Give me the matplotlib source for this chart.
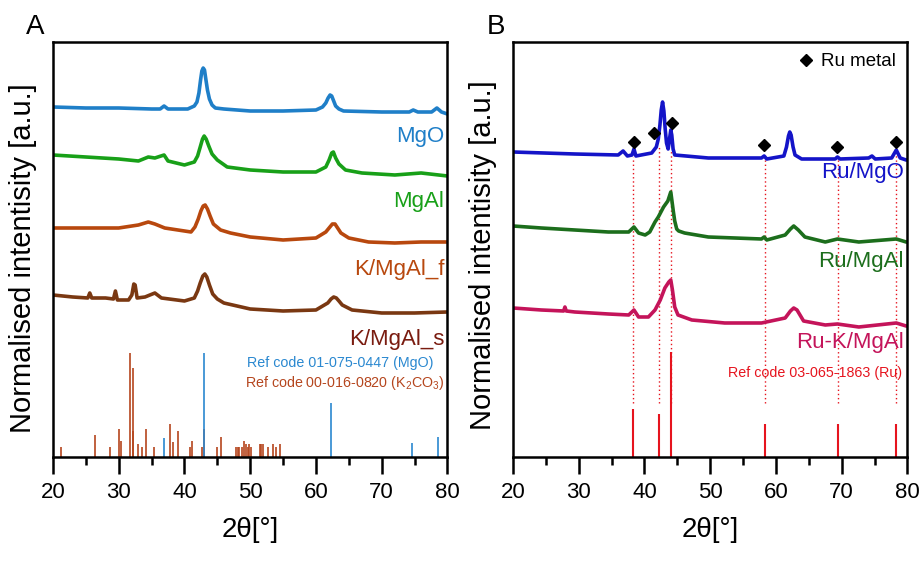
import matplotlib
matplotlib.use('Agg')
import matplotlib.pyplot as plt
from matplotlib.lines import Line2D
from matplotlib.ticker import MultipleLocator

plt.rcParams['font.family'] = ['Liberation Sans', 'DejaVu Sans']
plt.rcParams['mathtext.fontset'] = 'custom'
plt.rcParams['mathtext.rm'] = 'Liberation Sans'
plt.rcParams['mathtext.it'] = 'Liberation Sans:italic'

# ---------------- Panel A data ----------------
mgo_x = [20, 25, 30, 35, 36.3, 36.9, 37.5, 40.5, 41.5, 41.9, 42.2, 42.45, 42.65, 42.85, 43.05, 43.25, 43.5, 43.8,
         44.2, 44.7, 46, 50, 55, 60, 61.0, 61.5, 61.85, 62.15, 62.4, 62.7, 63.0, 63.5, 64.2, 70, 74.2, 74.8, 75.5,
         77.6, 78.4, 79.1, 80]
mgo_y = [350, 349, 349, 348, 348, 351, 348, 348, 351, 355, 364, 377, 386, 389, 387, 378, 367, 358,
         352, 349, 348, 346, 346, 347, 350, 354, 359, 362, 361, 356, 351, 348, 346, 345, 345, 347, 345,
         345, 349, 345, 343]

mgal_x = [20, 25, 30, 33, 34.5, 35.5, 36.9, 37.5, 40, 41.5, 42.0, 42.4, 42.75, 43.0, 43.3, 43.7, 44.2, 45, 46.5,
          50, 55, 60, 61.5, 62.0, 62.4, 62.65, 63.0, 63.5, 64.5, 67, 72, 76, 80]
mgal_y = [302, 300, 298, 296, 300, 299, 302, 296, 292, 295, 301, 310, 318, 321, 318, 311, 303, 297, 290,
          287, 285, 285, 290, 297, 304, 305, 299, 293, 287, 284, 282, 284, 281]

kf_x = [20, 25, 30, 33, 34.5, 35.5, 37, 39, 41.0, 41.6, 42.1, 42.5, 42.85, 43.15, 43.5, 43.9, 44.4, 45.5, 47, 50,
        55, 60, 61.5, 62.0, 62.5, 62.9, 63.3, 63.8, 65, 68, 72, 76, 80]
kf_y = [229, 229, 229, 232, 235, 233, 229, 227, 225, 230, 238, 246, 251, 252, 248, 241, 233, 227, 224, 220,
        217, 219, 225, 229, 233, 233, 229, 224, 219, 215, 214, 215, 215]

ks_x = [20, 23, 25.3, 25.6, 25.9, 28, 29.2, 29.5, 29.8, 31.5, 32.0, 32.3, 32.5, 32.8, 34, 35.5, 36.5, 40, 41.5,
        42.0, 42.4, 42.8, 43.1, 43.4, 43.8, 44.3, 45, 46, 50, 55, 60, 61.8, 62.3, 62.7, 63.1, 63.5, 64.0, 65.5,
        70, 75, 80]
ks_y = [162, 160, 159, 164, 159, 159, 158, 166, 157, 157, 162, 173, 172, 159, 160, 164, 159, 156, 159,
        166, 174, 181, 183, 180, 172, 163, 158, 154, 148, 146, 147, 154, 158, 160, 159, 156, 152, 147,
        144, 144, 145]

mgo_ref_x = [36.9, 42.9, 62.3, 74.6, 78.5]
mgo_ref_h = [19, 104, 54, 14, 20]
k2co3_ref_x = [21.2, 26.4, 28.7, 30.1, 30.35, 31.7, 32.1, 32.2, 32.9, 33.5, 34.2, 35.4, 37.8, 38.2, 39.0, 40.9,
               41.2, 42.7, 43.0, 44.9, 45.6, 47.9, 48.1, 48.3, 48.8, 49.1, 49.35, 49.6, 49.8, 50.1, 51.5, 51.7,
               51.9, 52.7, 53.4, 54.0, 54.5]
k2co3_ref_h = [10, 22, 10, 28, 16, 104, 26, 89, 13, 10, 28, 10, 33, 15, 26, 10,
               16, 10, 28, 10, 20, 10, 10, 10, 10, 16, 13, 10, 13, 10, 13, 13,
               13, 10, 13, 10, 13]

# ---------------- Panel B data ----------------
rumgo_x = [20, 29.4, 36.0, 36.75, 37.4, 38.1, 38.4, 38.7, 41.1, 41.8, 42.1, 42.35, 42.55, 42.75, 42.95, 43.15,
           43.35, 43.6, 43.85, 44.0, 44.15, 44.35, 44.6, 49.7, 57.8, 58.2, 58.6, 61.2, 61.6, 61.9, 62.1, 62.3,
           62.6, 62.9, 63.9, 69.0, 69.35, 69.75, 74.1, 74.6, 75.1, 77.6, 78.3, 78.9, 79.8, 80]
rumgo_y = [305, 303, 302, 306, 301, 302, 308, 301, 304, 310, 318, 332, 347, 355, 346, 328,
           314, 308, 320, 327, 322, 308, 302, 299, 299, 301, 298, 301, 310, 321, 325, 322,
           310, 302, 298, 298, 300, 298, 299, 301, 298, 299, 307, 299, 297, 297]

rumgal_x = [20, 24.3, 29.4, 34.5, 37.6, 38.4, 39.1, 40.1, 40.8, 41.6, 42.1, 42.9, 43.55, 44.0, 44.4, 44.6, 44.9,
            45.2, 46.1, 49.7, 57.8, 58.2, 58.6, 61.4, 62.2, 62.7, 63.4, 64.4, 67.5, 69.35, 72.6, 78.3, 79.8, 80]
rumgal_y = [231, 229, 227, 225, 225, 230, 224, 222, 225, 235, 240, 250, 256, 265, 245, 236, 228,
            226, 224, 220, 218, 220, 217, 222, 228, 231, 227, 220, 215, 218, 215, 218, 215, 215]

rukmgal_x = [20, 24.3, 27.7, 27.9, 28.1, 29.4, 34.5, 37.6, 38.4, 39.1, 40.6, 41.6, 42.4, 43.1, 43.7, 44.0, 44.25,
             44.6, 45.1, 47.2, 52.2, 57.8, 61.4, 62.2, 62.7, 63.2, 64.2, 67.5, 69.35, 72.6, 78.3, 79.8, 80]
rukmgal_y = [149, 147, 146, 150, 146, 145, 143, 142, 147, 140, 140, 147, 157, 169, 175, 177, 167,
             150, 142, 137, 134, 134, 139, 146, 149, 147, 136, 132, 133, 130, 134, 131, 131]

ru_ref_x = [38.3, 42.2, 44.0, 58.3, 69.4, 78.3]
ru_ref_h = [48, 43, 105, 33, 33, 33]
ru_guide_top = [300, 312, 307, 299, 298, 302]
ru_guide_bottom = 54
ru_marker_x = [38.4, 41.5, 44.2, 58.2, 69.3, 78.3]
ru_marker_y = [315, 324, 334, 312, 310, 315]

# colours
c_mgo, c_mgal, c_kf, c_ks, c_ks_lab = '#1f7fc8', '#18a018', '#b8480e', '#7a3812', '#7a1c10'
c_ref_mgo, c_ref_k = '#2a88d0', '#b5461e'
c_rumgo, c_rumgal, c_rukmgal, c_ru = '#1414c8', '#1c6e1c', '#c4145a', '#e6141e'

fig = plt.figure(figsize=(9.21, 5.63), dpi=100)
axA = fig.add_axes([0.0575, 0.1883, 0.4283, 0.7371])
axB = fig.add_axes([0.557, 0.1883, 0.4283, 0.7371])

for ax in (axA, axB):
    ax.set_xlim(20, 80)
    ax.set_ylim(0, 415)
    ax.set_yticks([])
    ax.xaxis.set_major_locator(MultipleLocator(10))
    ax.xaxis.set_minor_locator(MultipleLocator(5))
    ax.tick_params(axis='x', which='major', direction='out', length=12, width=1.8, labelsize=16, pad=6)
    ax.tick_params(axis='x', which='minor', direction='out', length=6, width=1.8)
    for sp in ax.spines.values():
        sp.set_linewidth(1.8)
    ax.set_xlabel('2θ[°]', fontsize=20, labelpad=10)

lw = 2.6
# Panel A
axA.vlines(k2co3_ref_x, 0, k2co3_ref_h, color=c_ref_k, lw=1.2)
axA.vlines(mgo_ref_x, 0, mgo_ref_h, color=c_ref_mgo, lw=1.2)
for xs, ys, c in ((mgo_x, mgo_y, c_mgo), (mgal_x, mgal_y, c_mgal), (kf_x, kf_y, c_kf), (ks_x, ks_y, c_ks)):
    axA.plot(xs, ys, color=c, lw=lw, solid_joinstyle='round')
axA.text(79.5, 320, 'MgO', color=c_mgo, fontsize=16, ha='right', va='center')
axA.text(79.5, 255, 'MgAl', color=c_mgal, fontsize=16, ha='right', va='center')
axA.text(79.5, 187, 'K/MgAl_f', color=c_kf, fontsize=16, ha='right', va='center')
axA.text(79.5, 117, 'K/MgAl_s', color=c_ks_lab, fontsize=16, ha='right', va='center')
axA.text(77.9, 94, 'Ref code 01-075-0447 (MgO)', color=c_ref_mgo, fontsize=10.3, ha='right', va='center')
axA.text(79.5, 74, r'Ref code 00-016-0820 (K$_\mathrm{2}$CO$_\mathrm{3}$)', color=c_ref_k, fontsize=10.3,
         ha='right', va='center')

# Panel B
axB.vlines(ru_ref_x, ru_guide_bottom, ru_guide_top, color=c_ru, lw=1.0, linestyles=(0, (1, 2)))
axB.vlines(ru_ref_x, 0, ru_ref_h, color=c_ru, lw=1.5)
for xs, ys, c in ((rumgo_x, rumgo_y, c_rumgo), (rumgal_x, rumgal_y, c_rumgal), (rukmgal_x, rukmgal_y, c_rukmgal)):
    axB.plot(xs, ys, color=c, lw=lw, solid_joinstyle='round')
axB.plot(ru_marker_x, ru_marker_y, ls='none', marker='D', color='black', ms=6.5)
axB.text(79.4, 284, 'Ru/MgO', color=c_rumgo, fontsize=16, ha='right', va='center')
axB.text(79.4, 195, 'Ru/MgAl', color=c_rumgal, fontsize=16, ha='right', va='center')
axB.text(79.4, 114, 'Ru-K/MgAl', color=c_rukmgal, fontsize=16, ha='right', va='center')
axB.text(79.2, 84, 'Ref code 03-065-1863 (Ru)', color=c_ru, fontsize=10.3, ha='right', va='center')
handle = Line2D([], [], ls='none', marker='D', color='black', ms=6.5, label='Ru metal')
axB.legend(handles=[handle], loc='upper right', frameon=False, fontsize=13.5, handlelength=1.0,
           handletextpad=0.3, borderaxespad=0.2, bbox_to_anchor=(1.0, 1.0))

# y labels and panel letters
fig.text(23 / 921, 1 - 258 / 563, 'Normalised intentisity [a.u.]', rotation=90, fontsize=21,
         ha='center', va='center')
fig.text(483 / 921, 1 - 255 / 563, 'Normalised intentisity [a.u.]', rotation=90, fontsize=21,
         ha='center', va='center')
fig.text(35 / 921, 1 - 27 / 563, 'A', fontsize=20, ha='center', va='center')
fig.text(496 / 921, 1 - 27 / 563, 'B', fontsize=20, ha='center', va='center')

fig.savefig('out.png', dpi=100)
